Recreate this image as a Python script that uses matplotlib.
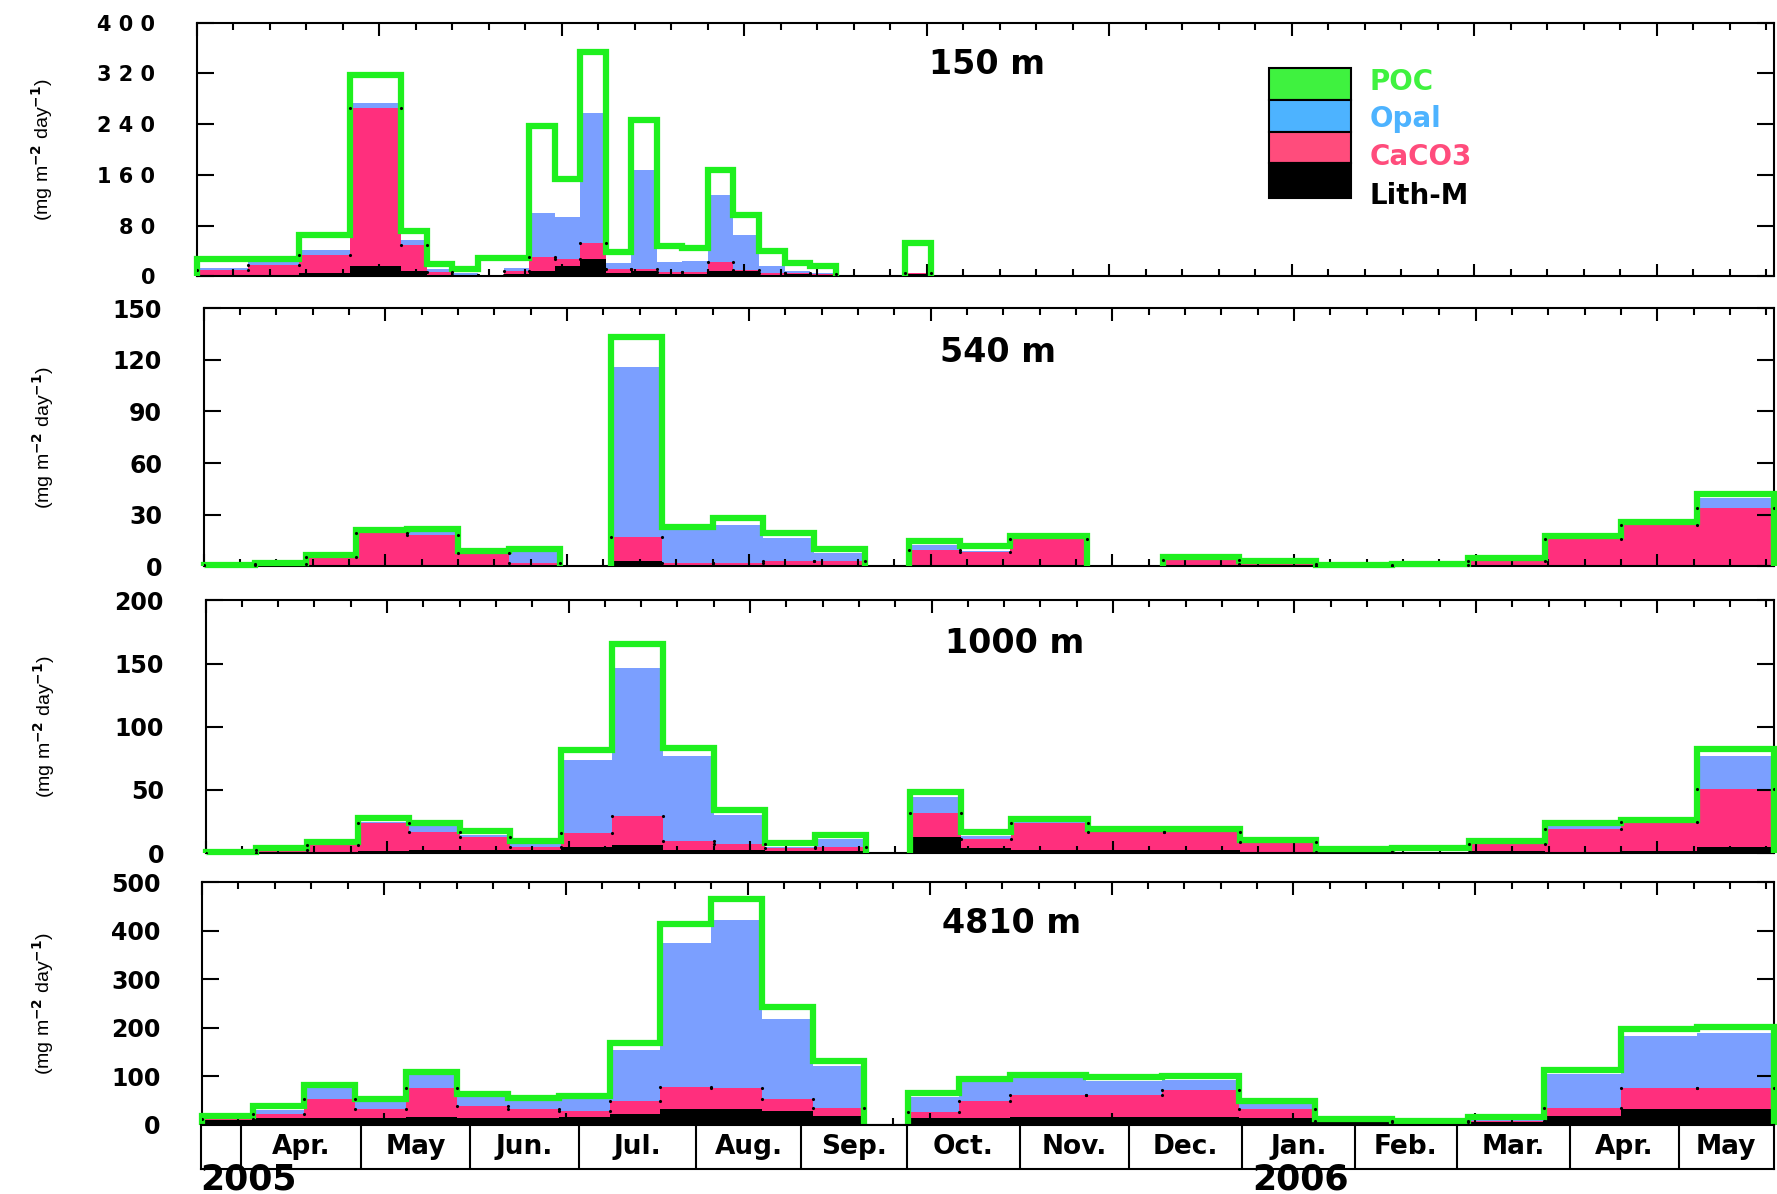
import numpy as np
import matplotlib
matplotlib.use('Agg')
import matplotlib.pyplot as plt
from matplotlib.patches import Rectangle

plt.rcParams['font.family'] = ['DejaVu Sans']
plt.rcParams['font.weight'] = 'bold'
plt.rcParams['mathtext.default'] = 'bf'

# ==========================
# data (day of year 2005, values in mg m-2 day-1)
# ==========================
start_150 = [80, 94, 108, 122, 136, 143, 150, 157, 164, 171, 178, 185, 192, 199, 206, 213, 220, 227, 234, 241, 248, 274]
end_150 = [94, 108, 122, 136, 143, 150, 157, 164, 171, 178, 185, 192, 199, 206, 213, 220, 227, 234, 241, 248, 255, 281]
lith_150 = [2, 3, 6, 16, 9, 2, 1, 1, 4, 9, 16, 28, 6, 9, 4, 4, 9, 9, 2, 4, 2, 4]
caco3_150 = [8, 15, 28, 249, 41, 5, 2, 1, 4, 22, 12, 24, 5, 2, 3, 3, 13, 1, 4, 2, 2, 1]
opal_150 = [4, 4, 7, 9, 7, 4, 2, 1, 5, 69, 65, 206, 10, 157, 15, 18, 106, 56, 10, 3, 2, 1]
poc_150 = [14, 6, 25, 44, 15, 8, 7, 26, 16, 137, 61, 96, 18, 79, 26, 20, 40, 31, 24, 12, 11, 46]

start_540 = [80, 94, 108, 122, 136, 150, 164, 192, 206, 220, 234, 248, 274, 288, 302, 344, 365, 386, 407, 428, 449, 470, 491]
end_540 = [94, 108, 122, 136, 150, 164, 178, 206, 220, 234, 248, 262, 288, 302, 323, 365, 386, 407, 428, 449, 470, 491, 512]
lith_540 = [0.3, 0.3, 0.5, 0.5, 1, 1, 1, 3, 1, 1, 1, 1, 0.5, 0.5, 0.5, 0.4, 0.3, 0.2, 0.2, 0.3, 0.3, 0.3, 0.6]
caco3_540 = [0.3, 1, 4.7, 18.8, 17, 7, 1, 14, 1, 1, 2.3, 2.3, 9.2, 8, 15.4, 3.5, 1.2, 0.3, 0.5, 2.7, 15.7, 23.7, 33.4]
opal_540 = [0.2, 0.3, 0.3, 0.5, 3, 0.3, 6.7, 99, 19, 22, 13, 4.4, 3, 0.3, 0.3, 0.1, 0.1, 0.1, 0.1, 0.1, 0.2, 0.3, 6]
poc_540 = [0.2, 0.4, 1.0, 1.2, 1.0, 0.7, 1.3, 17, 1.8, 4.4, 3, 2.5, 1.8, 3.2, 1.2, 1.2, 1.3, 0.4, 0.6, 1.7, 1.2, 1.4, 1.8]

start_1000 = [80, 94, 108, 122, 136, 150, 164, 178, 192, 206, 220, 234, 248, 274, 288, 302, 323, 344, 365, 386, 407, 428, 449, 470, 491]
end_1000 = [94, 108, 122, 136, 150, 164, 178, 192, 206, 220, 234, 248, 262, 288, 302, 323, 344, 365, 386, 407, 428, 449, 470, 491, 512]
lith_1000 = [0.2, 0.5, 1, 1.3, 2.6, 2, 2.6, 4.5, 6.6, 2.6, 2.6, 1.8, 1.8, 12.9, 3.7, 2.6, 2, 2, 1, 0.5, 0.5, 1.5, 1, 1.5, 4.5]
caco3_1000 = [0.1, 1.5, 5.6, 22.1, 13.7, 11, 1.9, 11, 22.4, 6.6, 4.2, 1.9, 2.7, 19.1, 7.3, 21.1, 14.8, 14.8, 7.4, 0.5, 0.5, 5.6, 18, 22.7, 46]
opal_1000 = [0.1, 0.2, 0.2, 1.3, 5.3, 1.2, 3.1, 57.9, 117.6, 67.6, 23.5, 1, 6.5, 12, 2.7, 1, 0.2, 0.2, 0.1, 0.1, 0.1, 0.1, 2, 0.3, 26.3]
poc_1000 = [0.1, 1.8, 1.6, 2.7, 1.8, 3.2, 2.1, 8.2, 18.9, 6.6, 3.7, 3.2, 3, 4.7, 2.6, 2.1, 2, 2, 1.8, 1.9, 3.1, 2, 2.4, 1.8, 5.8]

start_4810 = start_1000
end_4810 = end_1000
lith_4810 = [10, 14, 14, 14, 17, 15, 15, 17, 23, 32, 32, 28, 19, 14, 14, 17, 17, 17, 14, 7, 6, 7, 19, 32, 32]
caco3_4810 = [2, 8, 39, 18, 60, 25, 17, 11, 27, 47, 45, 25, 16, 12, 36, 45, 45, 55, 18, 1, 0.5, 1.5, 16, 45, 45]
opal_4810 = [2, 9, 23, 15, 26, 20, 21, 25, 104, 297, 345, 166, 87, 31, 38, 35, 28, 21, 11, 1, 0.5, 3, 69, 107, 113]
poc_4810 = [4, 7, 6, 6, 7, 4, 2, 6, 15, 39, 43, 24, 9, 8, 6, 6, 8, 7, 7, 2.7, 1, 5.5, 10, 14, 11]

month_names = ['Apr.', 'May', 'Jun.', 'Jul.', 'Aug.', 'Sep.', 'Oct.', 'Nov.', 'Dec.', 'Jan.', 'Feb.', 'Mar.', 'Apr.', 'May']
month_start = [91, 124, 154, 184, 216, 245, 274, 305, 335, 366, 397, 425, 456, 486]

legend_names = ['POC', 'Opal', 'CaCO3', 'Lith-M']

# ==========================
# styles / layout
# ==========================
GREEN = '#1ef01e'
OPAL = '#7b9fff'
CACO3 = '#ff2f7d'
LEG_COLORS = ['#3ff23f', '#4db3ff', '#ff4c7c', 'black']
X0, X1 = 80, 512
W, H = 1568.0, 1054.0
LABEL_FONT = ['Liberation Sans Narrow', 'Liberation Sans', 'DejaVu Sans']


def rect(l, t, r, b):
    return [l / W, 1 - b / H, (r - l) / W, (b - t) / H]


def draw_panel(ax, start, end, lith, caco3, opal, poc, ymax, ystep, name, name_xy,
               spaced=False, labelsize=17):
    start = np.array(start, float)
    end = np.array(end, float)
    lith = np.array(lith, float)
    caco3 = np.array(caco3, float)
    opal = np.array(opal, float)
    poc = np.array(poc, float)
    width = end - start

    ax.bar(start, lith, width, align='edge', color='black', lw=0)
    ax.bar(start, caco3, width, bottom=lith, align='edge', color=CACO3, lw=0)
    ax.bar(start, opal, width, bottom=lith + caco3, align='edge', color=OPAL, lw=0)
    ax.bar(start, poc, width, bottom=lith + caco3 + opal, align='edge', color='white', lw=0)
    total = lith + caco3 + opal + poc

    # green outline of the total, one piece per run of consecutive samples
    breaks = np.where(start[1:] != end[:-1])[0] + 1
    for idx in np.split(np.arange(len(start)), breaks):
        edges = np.append(start[idx], end[idx[-1]])
        ax.stairs(total[idx], edges, baseline=0, color=GREEN, lw=4.5, clip_on=False, zorder=3)

    # small marks at the CaCO3 corners
    top = lith + caco3
    ax.plot(np.concatenate([start, end]), np.concatenate([top, top]), 'k.', ms=2.5, zorder=4)

    ax.set_xlim(X0, X1)
    ax.set_ylim(0, ymax)
    ax.set_xticks(np.arange(X0, X1 + 1, 50))
    ax.set_xticks(np.arange(X0, X1 + 1, 10), minor=True)
    ax.tick_params(axis='x', which='both', direction='in', top=True, bottom=True, labelbottom=False)
    ax.tick_params(axis='x', which='major', length=9, width=1.5)
    ax.tick_params(axis='x', which='minor', length=5, width=1.5)
    yt = np.arange(0, ymax + 1, ystep)
    ax.set_yticks(yt)
    if spaced:
        ax.set_yticklabels([' '.join(str(int(v))) for v in yt])
    ax.tick_params(axis='y', direction='in', left=True, right=True, length=12, width=1.5,
                   labelsize=labelsize, pad=30)
    for s in ax.spines.values():
        s.set_linewidth(1.5)
    ax.set_ylabel('(mg m$^{-2}$ day$^{-1}$)', fontsize=14, family=LABEL_FONT)
    ax.text(name_xy[0], name_xy[1], name, transform=ax.transAxes, ha='center', va='center', fontsize=24)


fig = plt.figure(figsize=(17.77, 11.94), dpi=100)

ax1 = fig.add_axes(rect(173.8, 20, 1565, 244))
ax2 = fig.add_axes(rect(179.8, 272, 1565, 500))
ax3 = fig.add_axes(rect(181.4, 530, 1565, 753))
ax4 = fig.add_axes(rect(178.3, 779, 1565, 993))

draw_panel(ax1, start_150, end_150, lith_150, caco3_150, opal_150, poc_150, 400, 80, '150 m',
           (0.501, 0.835), spaced=True, labelsize=15)
draw_panel(ax2, start_540, end_540, lith_540, caco3_540, opal_540, poc_540, 150, 30, '540 m', (0.506, 0.829))
draw_panel(ax3, start_1000, end_1000, lith_1000, caco3_1000, opal_1000, poc_1000, 200, 50, '1000 m', (0.516, 0.83))
draw_panel(ax4, start_4810, end_4810, lith_4810, caco3_4810, opal_4810, poc_4810, 500, 100, '4810 m', (0.515, 0.832))

ax1.yaxis.set_label_coords(-0.090, 0.5)
ax2.yaxis.set_label_coords(-0.094, 0.5)
ax3.yaxis.set_label_coords(-0.095, 0.5)
ax4.yaxis.set_label_coords(-0.093, 0.5)

# legend (stacked colour boxes)
box_tops = [0.821, 0.696, 0.571, 0.446]
box_bots = [0.696, 0.571, 0.446, 0.308]
text_y = [0.768, 0.62, 0.469, 0.317]
for nm, col, bt, bb, ty in zip(legend_names, LEG_COLORS, box_tops, box_bots, text_y):
    ax1.add_patch(Rectangle((0.680, bb), 0.0518, bt - bb, transform=ax1.transAxes,
                            facecolor=col, edgecolor='black', lw=1.5, zorder=5))
    ax1.text(0.744, ty, nm, transform=ax1.transAxes, color=col, fontsize=20,
             ha='left', va='center', zorder=5)

# month strip
axm = fig.add_axes(rect(177, 993, 1565, 1032))
axm.set_xlim(X0, X1)
axm.set_ylim(0, 1)
axm.set_xticks([])
axm.set_yticks([])
for s in axm.spines.values():
    s.set_linewidth(1.5)
month_end = month_start[1:] + [X1]
for nm, s, e in zip(month_names, month_start, month_end):
    axm.axvline(s, color='black', lw=1.5)
    axm.text((s + e) / 2, 0.5, nm, ha='center', va='center', fontsize=19)

fig.text(177 / W, 1 - 1050 / H, '2005', fontsize=25, ha='left', va='baseline')
fig.text(1105 / W, 1 - 1050 / H, '2006', fontsize=25, ha='left', va='baseline')

fig.savefig('out.png', dpi=100)
